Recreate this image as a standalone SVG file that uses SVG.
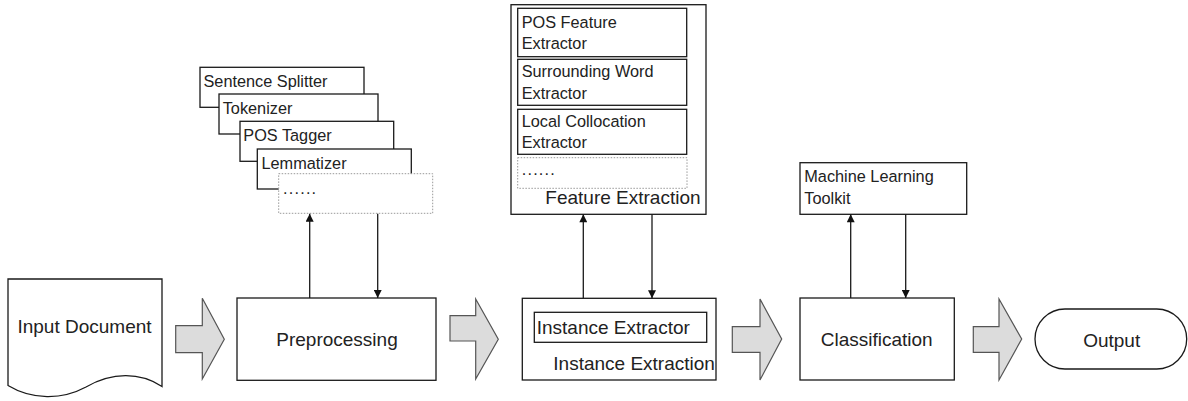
<svg xmlns="http://www.w3.org/2000/svg" width="1188" height="401" viewBox="0 0 1188 401">
<style>
.box{fill:#fff;stroke:#1a1a1a;stroke-width:1.3}
.dot{fill:#fff;stroke:#999;stroke-width:1;stroke-dasharray:1.5 1.5}
.blk{fill:#dcdcdc;stroke:#555;stroke-width:1.2}
.big{font-family:"Liberation Sans",Arial,sans-serif;font-size:19px;fill:#222}
.sm{font-family:"Liberation Sans",Arial,sans-serif;font-size:16.3px;fill:#222}
.mid{text-anchor:middle}
.con{stroke:#1a1a1a;stroke-width:1.3;fill:none}
</style>
<defs>
<marker id="ah" viewBox="0 0 10 10" refX="10" refY="5" markerWidth="9" markerHeight="8" markerUnits="userSpaceOnUse" orient="auto">
<path d="M0,0 L10,5 L0,10 Z" fill="#111"/>
</marker>
</defs>
<rect width="1188" height="401" fill="#fff"/>

<g id="input-document">
<path class="box" d="M8,279 H162 V386.5 C140,372 112,372 86,387 C62,400 32,400 8,385.5 Z"/>
<text class="big mid" x="84.5" y="333">Input Document</text>
</g>

<g id="block-arrows">
<path class="blk" d="M175.7,325.7 H202.3 V298.3 L224.3,339.3 L202.3,379 V352.7 H175.7 Z"/>
<path class="blk" d="M450,315.7 H475.7 V299 L498.3,339.3 L475.7,379 V341 H450 Z"/>
<path class="blk" d="M732.3,326.7 H760 V299 L781.7,339 L760,380 V352.3 H732.3 Z"/>
<path class="blk" d="M973.3,326.7 H999 V299 L1021.7,339 L999,380 V352.3 H973.3 Z"/>
</g>

<g id="preprocessing">
<rect class="box" x="237" y="298" width="199" height="82.3"/>
<text class="big mid" x="337" y="345.5">Preprocessing</text>
</g>

<g id="preprocessing-tools">
<g id="sentence-splitter">
<rect class="box" x="200" y="67.3" width="164" height="40"/>
<text class="sm" x="203.5" y="87">Sentence Splitter</text>
</g>
<g id="tokenizer">
<rect class="box" x="219" y="94" width="159" height="40"/>
<text class="sm" x="222.7" y="113.5">Tokenizer</text>
</g>
<g id="pos-tagger">
<rect class="box" x="240" y="121.3" width="153.7" height="40"/>
<text class="sm" x="243.3" y="141">POS Tagger</text>
</g>
<g id="lemmatizer">
<rect class="box" x="257.3" y="149" width="154" height="40"/>
<text class="sm" x="261.5" y="168.5">Lemmatizer</text>
</g>
<g id="more-tools">
<rect class="dot" x="278.7" y="173.7" width="154" height="39.6"/>
<text class="sm" x="283" y="194" letter-spacing="1.2">......</text>
</g>
</g>

<g id="feature-extraction">
<rect class="box" x="511" y="4.7" width="195" height="209.6"/>
<g id="pos-feature-extractor">
<rect class="box" x="517.7" y="8.3" width="169" height="48.4"/>
<text class="sm" x="521.7" y="28.3">POS Feature</text>
<text class="sm" x="521.7" y="49.3">Extractor</text>
</g>
<g id="surrounding-word-extractor">
<rect class="box" x="517.7" y="59.3" width="169" height="46"/>
<text class="sm" x="521.7" y="77.3">Surrounding Word</text>
<text class="sm" x="521.7" y="98.7">Extractor</text>
</g>
<g id="local-collocation-extractor">
<rect class="box" x="517.7" y="109.3" width="169" height="45"/>
<text class="sm" x="521.7" y="126.7">Local Collocation</text>
<text class="sm" x="521.7" y="147.7">Extractor</text>
</g>
<g id="more-features">
<rect class="dot" x="517.7" y="157.7" width="169.3" height="30.6"/>
<text class="sm" x="521.7" y="175" letter-spacing="1.2">......</text>
</g>
<text class="big" x="545.3" y="204">Feature Extraction</text>
</g>

<g id="instance-extraction">
<rect class="box" x="522.3" y="298.3" width="193.7" height="81.7"/>
<g id="instance-extractor">
<rect class="box" x="534.3" y="312.3" width="172.4" height="30"/>
<text class="big" x="536.7" y="333.5">Instance Extractor</text>
</g>
<text class="big" x="553.3" y="370">Instance Extraction</text>
</g>

<g id="ml-toolkit">
<rect class="box" x="800" y="162.7" width="166.7" height="51.6"/>
<text class="sm" x="804.3" y="181.7">Machine Learning</text>
<text class="sm" x="804.3" y="204.3">Toolkit</text>
</g>

<g id="classification">
<rect class="box" x="800" y="298" width="154.3" height="82"/>
<text class="big mid" x="876.7" y="346">Classification</text>
</g>

<g id="output">
<rect class="box" x="1035" y="309" width="151.7" height="60" rx="30" ry="30"/>
<text class="big mid" x="1111.7" y="346.5">Output</text>
</g>

<g id="connectors">
<line class="con" x1="309.7" y1="298" x2="309.7" y2="213.7" marker-end="url(#ah)"/>
<line class="con" x1="377.7" y1="213.7" x2="377.7" y2="298" marker-end="url(#ah)"/>
<line class="con" x1="583.3" y1="298.3" x2="583.3" y2="214.3" marker-end="url(#ah)"/>
<line class="con" x1="652" y1="214.3" x2="652" y2="298.3" marker-end="url(#ah)"/>
<line class="con" x1="850.7" y1="298" x2="850.7" y2="214.3" marker-end="url(#ah)"/>
<line class="con" x1="905.7" y1="214.3" x2="905.7" y2="298" marker-end="url(#ah)"/>
</g>
</svg>
